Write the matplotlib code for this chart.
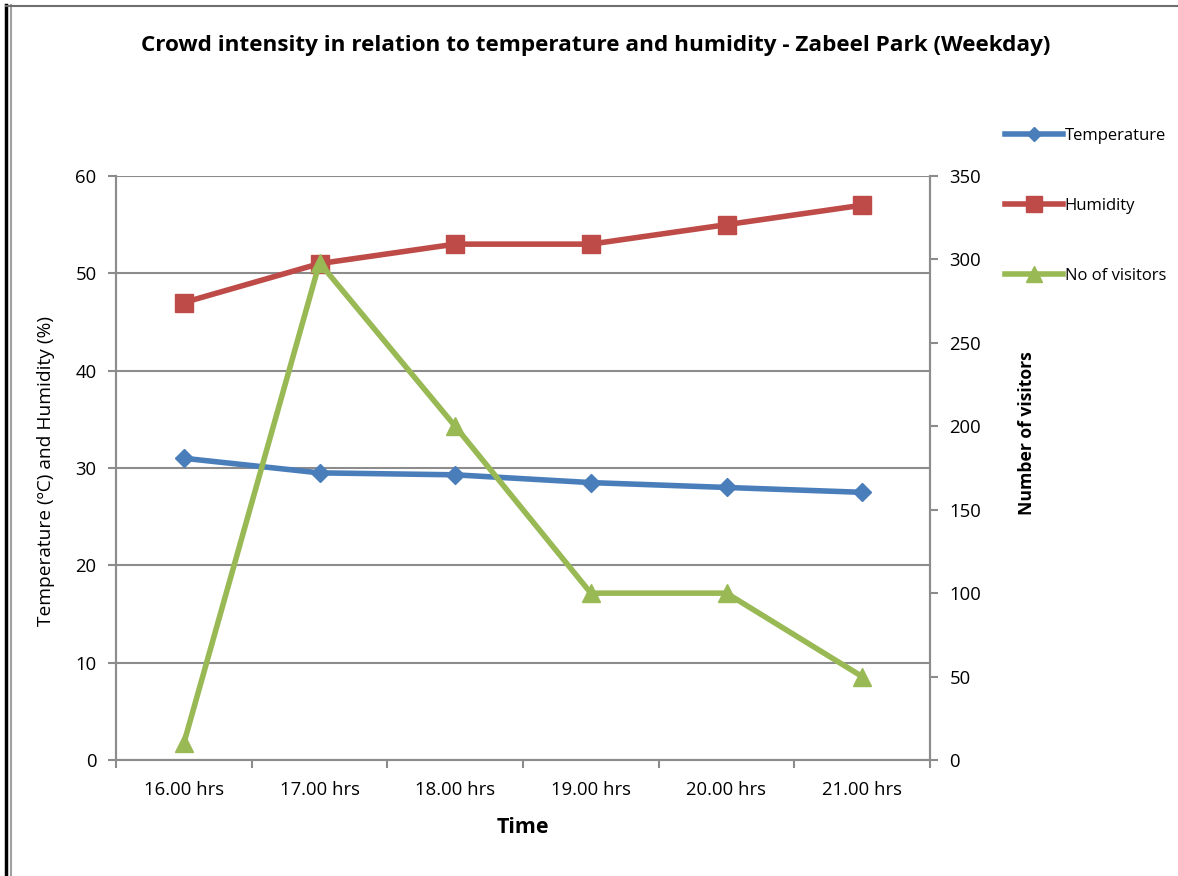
import matplotlib.pyplot as plt
from matplotlib.lines import Line2D

plt.rcParams["font.family"] = ["Open Sans", "DejaVu Sans"]

times = ["16.00 hrs", "17.00 hrs", "18.00 hrs", "19.00 hrs", "20.00 hrs", "21.00 hrs"]
temperature = [31.0, 29.5, 29.3, 28.5, 28.0, 27.5]
humidity = [47, 51, 53, 53, 55, 57]
visitors = [10, 298, 200, 100, 100, 50]

BLUE = "#4a7ebb"
RED = "#be4b48"
GREEN = "#98b954"
GRID = "#8c8c8c"

fig = plt.figure(figsize=(11.78, 8.76), dpi=100)
ax = fig.add_axes([116 / 1178, 116 / 876, 814 / 1178, 584 / 876])
ax2 = ax.twinx()

x = list(range(len(times)))
ax.plot(x, temperature, color=BLUE, lw=4, marker="D", ms=9, label="Temperature", zorder=3)
ax.plot(x, humidity, color=RED, lw=4, marker="s", ms=13, label="Humidity", zorder=3)
ax2.plot(x, visitors, color=GREEN, lw=4, marker="^", ms=13, label="No of visitors", zorder=3)

ax.set_xlim(-0.5, len(times) - 0.5)
ax.set_ylim(0, 60)
ax.set_yticks(range(0, 61, 10))
ax2.set_ylim(0, 350)
ax2.set_yticks(range(0, 351, 50))

ax.set_xticks(x)
ax.set_xticklabels(times, fontsize=13.3)
ax.set_xticks([i - 0.5 for i in range(len(times) + 1)], minor=True)
ax.tick_params(axis="x", which="major", length=0, pad=15)
ax.tick_params(axis="x", which="minor", length=6, color=GRID, width=1.5)
ax.tick_params(axis="y", length=6, color=GRID, width=1.5, labelsize=13.3, pad=8)
ax2.tick_params(axis="y", length=6, color=GRID, width=1.5, labelsize=13.3, pad=8)

ax.grid(axis="y", color=GRID, lw=1.5)
ax.set_axisbelow(True)
for a in (ax, ax2):
    a.spines["top"].set_visible(False)
    for s in ("left", "right", "bottom"):
        a.spines[s].set_color(GRID)
        a.spines[s].set_linewidth(1.5)

ax.set_xlabel("Time", fontsize=15.5, fontweight="bold")
ax.xaxis.set_label_coords(0.5, -57 / 584)
ax.set_ylabel("Temperature (ºC) and Humidity (%)", fontsize=13.8)
ax.yaxis.set_label_coords(-61 / 814, 289 / 584)
ax2.set_ylabel("Number of visitors", fontsize=12.6, fontweight="bold")
ax2.yaxis.set_label_coords(1 + 88 / 814, 327 / 584)

fig.text(596 / 1178, 1 - 45 / 876, "Crowd intensity in relation to temperature and humidity - Zabeel Park (Weekday)",
         ha="center", va="center", fontsize=16.2, fontweight="bold")

handles = [
    Line2D([], [], color=BLUE, lw=4, marker="D", ms=7),
    Line2D([], [], color=RED, lw=4, marker="s", ms=11),
    Line2D([], [], color=GREEN, lw=4, marker="^", ms=11),
]
fig.legend(handles, ["Temperature", "Humidity", "No of visitors"], loc="upper left",
           bbox_to_anchor=(998 / 1178, 1 - 121 / 876), frameon=False, fontsize=12,
           handlelength=3.5, handletextpad=0.1, labelspacing=3.25, borderaxespad=0)

# outer border like the original export
fig.add_artist(Line2D([6 / 1178, 6 / 1178], [0, 1 - 5 / 876], color="black", lw=2.5))
fig.add_artist(Line2D([10.5 / 1178, 10.5 / 1178], [0, 1 - 5 / 876], color="#a0a0a0", lw=1.5))
fig.add_artist(Line2D([6 / 1178, 1], [1 - 5.5 / 876, 1 - 5.5 / 876], color="#6e6e6e", lw=1.5))

fig.savefig("out.png", dpi=100)
